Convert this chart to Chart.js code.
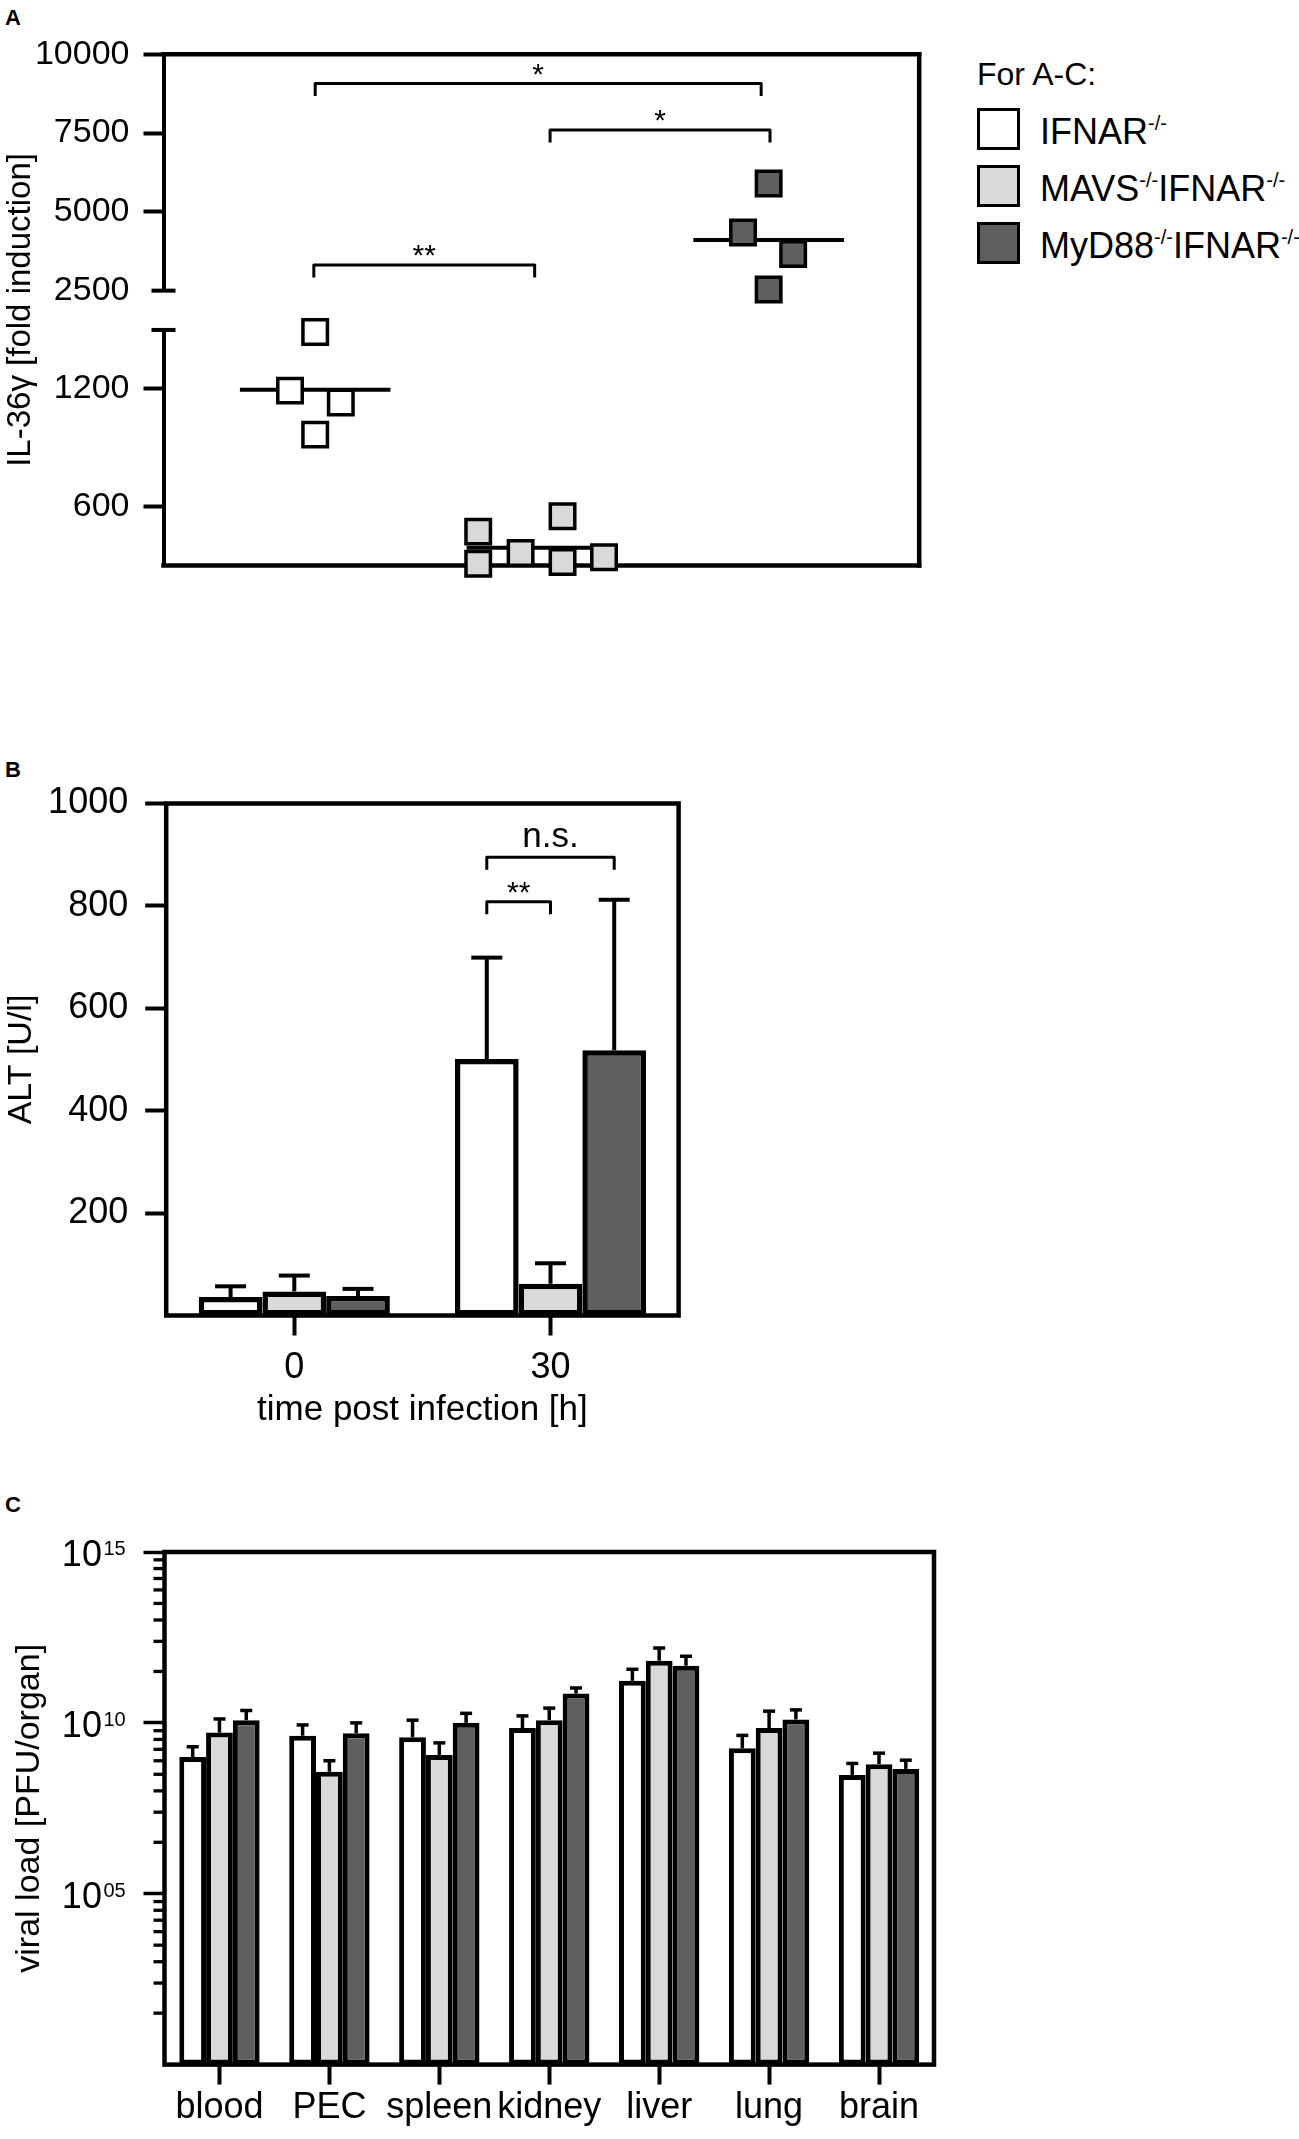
<!DOCTYPE html>
<html lang="en">
<head>
  <meta charset="UTF-8">
  <title>IL-36γ induction, ALT and viral load</title>
  <script src="https://cdn.jsdelivr.net/npm/chart.js"></script>
  <style>
    * {
      box-sizing: border-box;
      margin: 0;
      padding: 0;
    }

    html, body {
      width: 1299px;
      height: 2139px;
      overflow: hidden;
      background: #fff;
      color: #000;
      font-family: 'Liberation Sans', Arial, Helvetica, sans-serif;
    }

    body {
      position: relative;
    }

    canvas {
      position: absolute;
      left: 0;
    }

    .letter {
      position: absolute;
      left: 5px;
      font-size: 22px;
      font-weight: bold;
      line-height: 1;
    }

    .legend-title {
      position: absolute;
      left: 977px;
      top: 58px;
      font-size: 32px;
      line-height: 1;
    }

    .legend-row {
      position: absolute;
      left: 977px;
      height: 42px;
      white-space: nowrap;
    }

    .legend-box {
      position: absolute;
      left: 0;
      top: 0;
      width: 43px;
      height: 42px;
      border: 3px solid #000;
    }

    .legend-label {
      position: absolute;
      left: 63px;
      top: 3px;
      font-size: 36px;
      line-height: 42px;
    }

    .legend-label sup {
      font-size: 20px;
      line-height: 0;
      vertical-align: 14px;
    }
  </style>
</head>
<body>
  <div class="letter" style="top:7px">A</div>
  <div class="letter" style="top:759px">B</div>
  <div class="letter" style="top:1494px">C</div>

  <canvas id="chartA" style="top:0" width="940" height="600"></canvas>
  <canvas id="chartB" style="top:740px" width="700" height="720"></canvas>
  <canvas id="chartC" style="top:1480px" width="940" height="659"></canvas>

  <div class="legend-title">For A-C:</div>
  <div class="legend-row" style="top:108px">
    <div class="legend-box" style="background:#ffffff"></div>
    <div class="legend-label">IFNAR<sup>-/-</sup></div>
  </div>
  <div class="legend-row" style="top:165px">
    <div class="legend-box" style="background:#d9d9d9"></div>
    <div class="legend-label">MAVS<sup>-/-</sup>IFNAR<sup>-/-</sup></div>
  </div>
  <div class="legend-row" style="top:222px">
    <div class="legend-box" style="background:#5f5f5f"></div>
    <div class="legend-label">MyD88<sup>-/-</sup>IFNAR<sup>-/-</sup></div>
  </div>

  <script>
    // group colours: IFNAR-/-, MAVS-/-IFNAR-/-, MyD88-/-IFNAR-/-
    const groupFills = ['#ffffff', '#d9d9d9', '#5f5f5f'];

    // A: IL-36y fold induction, one point per mouse (x = group position incl. jitter)
    const groupCentersA = [1, 2, 3];
    const ifnarXA = [1.0, 0.889, 1.113, 1.0];
    const ifnarIL36 = [1490, 1191, 1131, 967];
    const mavsXA = [1.719, 1.719, 1.906, 2.091, 2.091, 2.274];
    const mavsIL36 = [473, 309, 364, 551, 318, 342];
    const myd88XA = [3.0, 2.887, 3.108, 3.0];
    const myd88IL36 = [5900, 4346, 3666, 2534];
    const meanIL36 = [1196, 391, 4108];
    const upperTicksA = [2500, 5000, 7500, 10000];
    const lowerTicksA = [600, 1200];
    const sigFromA = [1.0, 2.036, 0.994];
    const sigToA = [2.967, 3.006, 1.968];
    const sigLevelA = [9070, 7598, 3314];
    const sigTextA = ['*', '*', '**'];

    // B: ALT [U/l], mean and upper end of error bar
    const timeLabels = ['0', '30'];
    const altIfnar = [36, 501];
    const altMavs = [47, 62];
    const altMyd88 = [38, 518];
    const altIfnarTop = [57, 699];
    const altMavsTop = [78, 102];
    const altMyd88Top = [52, 812];
    const altTicks = [200, 400, 600, 800, 1000];

    // C: viral load [PFU/organ], mean and upper end of error bar
    const organs = ['blood', 'PEC', 'spleen', 'kidney', 'liver', 'lung', 'brain'];
    const viralIfnar = [1.0e9, 4.2e9, 3.8e9, 7.1e9, 1.7e11, 1.8e9, 3.0e8];
    const viralIfnarTop = [2.0e9, 8.7e9, 1.2e10, 1.6e10, 3.7e11, 4.3e9, 6.5e8];
    const viralMavs = [5.2e9, 3.7e8, 1.15e9, 1.2e10, 6.6e11, 7.1e9, 6.2e8];
    const viralMavsTop = [1.3e10, 7.8e8, 2.6e9, 2.7e10, 1.55e12, 2.2e10, 1.3e9];
    const viralMyd88 = [1.2e10, 5.0e9, 1.0e10, 7.2e10, 4.7e11, 1.26e10, 4.5e8];
    const viralMyd88Top = [2.3e10, 1.0e10, 1.9e10, 1.05e11, 8.9e11, 2.4e10, 8.1e8];
    const majorTicksC = [1e5, 1e10, 1e15];
    const exponentsC = ['05', '10', '15'];

    const FONT = "'Liberation Sans', Arial, Helvetica, sans-serif";
    Chart.defaults.font.family = FONT;
    Chart.defaults.color = '#000';
    Chart.defaults.animation = false;
    Chart.defaults.plugins.legend.display = false;
    Chart.defaults.plugins.tooltip.enabled = false;

    const plainLabel = v => String(v);

    function seg(ctx, x1, y1, x2, y2) {
      ctx.beginPath();
      ctx.moveTo(x1, y1);
      ctx.lineTo(x2, y2);
      ctx.stroke();
    }

    function drawBracket(ctx, x1, x2, y, text, fontSize, lift) {
      ctx.save();
      ctx.strokeStyle = '#000';
      ctx.lineWidth = 3;
      ctx.lineJoin = 'round';
      ctx.beginPath();
      ctx.moveTo(x1, y + 12.5);
      ctx.lineTo(x1, y);
      ctx.lineTo(x2, y);
      ctx.lineTo(x2, y + 12.5);
      ctx.stroke();
      ctx.fillStyle = '#000';
      ctx.font = fontSize + 'px ' + FONT;
      ctx.textAlign = 'center';
      ctx.textBaseline = 'alphabetic';
      ctx.fillText(text, (x1 + x2) / 2, y - lift);
      ctx.restore();
    }

    function drawFrame(ctx, a) {
      ctx.save();
      ctx.strokeStyle = '#000';
      ctx.lineWidth = 4.5;
      ctx.lineCap = 'square';
      ctx.strokeRect(a.left, a.top, a.right - a.left, a.bottom - a.top);
      ctx.restore();
    }

    // whiskers above each bar, upper ends come from dataset.errorTop
    const errorBarPlugin = {
      id: 'errorBars',
      afterDatasetsDraw(chart, args, opts) {
        const ctx = chart.ctx;
        ctx.save();
        ctx.strokeStyle = '#000';
        ctx.lineWidth = opts.width;
        chart.data.datasets.forEach((ds, i) => {
          const meta = chart.getDatasetMeta(i);
          const yScale = chart.scales[meta.yAxisID];
          meta.data.forEach((bar, j) => {
            const yEnd = yScale.getPixelForValue(ds.errorTop[j]);
            seg(ctx, bar.x, bar.y, bar.x, yEnd);
            seg(ctx, bar.x - opts.cap / 2, yEnd, bar.x + opts.cap / 2, yEnd);
          });
        });
        ctx.restore();
      }
    };

    // ---------- Panel A: broken y axis built from two stacked scales ----------
    function meanLine(i, axis) {
      return {
        type: 'line',
        data: [
          { x: groupCentersA[i] - 0.332, y: meanIL36[i] },
          { x: groupCentersA[i] + 0.332, y: meanIL36[i] }
        ],
        yAxisID: axis,
        borderColor: '#000',
        borderWidth: 4,
        pointRadius: 0,
        clip: false,
        order: 2
      };
    }

    function mice(xs, ys, i, axis) {
      return {
        data: xs.map((x, k) => ({ x: x, y: ys[k] })),
        yAxisID: axis,
        pointStyle: 'rect',
        pointRadius: 17.3,
        pointBackgroundColor: groupFills[i],
        pointBorderColor: '#000',
        pointBorderWidth: 3.5,
        clip: false,
        order: 1
      };
    }

    const panelAPlugin = {
      id: 'panelA',
      beforeDatasetsDraw(chart) {
        const { ctx, chartArea: a } = chart;
        const upper = chart.scales.yTop;
        const lower = chart.scales.yLow;
        ctx.save();
        ctx.strokeStyle = '#000';
        ctx.lineWidth = 4.5;
        ctx.lineCap = 'square';
        seg(ctx, a.left, a.top, a.right, a.top);
        seg(ctx, a.right, a.top, a.right, a.bottom);
        seg(ctx, a.left, a.bottom, a.right, a.bottom);
        // caps of the axis break
        ctx.lineCap = 'butt';
        ctx.lineWidth = 4;
        seg(ctx, a.left - 12, upper.bottom, a.left + 12, upper.bottom);
        seg(ctx, a.left - 12, lower.top, a.left + 12, lower.top);
        ctx.restore();
      },
      afterDraw(chart) {
        const { ctx, chartArea: a } = chart;
        const x = chart.scales.x;
        const upper = chart.scales.yTop;
        sigTextA.forEach((t, i) => {
          drawBracket(ctx, x.getPixelForValue(sigFromA[i]), x.getPixelForValue(sigToA[i]),
            upper.getPixelForValue(sigLevelA[i]), t, 30, 0);
        });
        ctx.save();
        ctx.translate(21, (a.top + a.bottom) / 2);
        ctx.rotate(-Math.PI / 2);
        ctx.font = '33px ' + FONT;
        ctx.fillStyle = '#000';
        ctx.textAlign = 'center';
        ctx.textBaseline = 'middle';
        ctx.fillText('IL-36γ [fold induction]', 0, 0);
        ctx.restore();
      }
    };

    const axisFontA = { size: 34 };
    new Chart(document.getElementById('chartA'), {
      type: 'scatter',
      data: {
        datasets: [
          meanLine(0, 'yLow'), meanLine(1, 'yLow'), meanLine(2, 'yTop'),
          mice(ifnarXA, ifnarIL36, 0, 'yLow'),
          mice(mavsXA, mavsIL36, 1, 'yLow'),
          mice(myd88XA, myd88IL36, 2, 'yTop')
        ]
      },
      options: {
        responsive: false,
        events: [],
        layout: { padding: { top: 54.3, right: 7.3, bottom: 34.3, left: 0 } },
        scales: {
          x: { type: 'linear', min: 0.331, max: 3.664, display: false },
          yTop: {
            type: 'linear', position: 'left', stack: 'il36', stackWeight: 236.4, weight: 3,
            min: 2500, max: 10000,
            afterBuildTicks: s => { s.ticks = upperTicksA.map(v => ({ value: v })); },
            ticks: { font: axisFontA, padding: 14, color: '#000', autoSkip: false, callback: plainLabel },
            grid: {
              drawOnChartArea: false, tickLength: 20, tickWidth: 4,
              tickColor: c => (c.tick && c.tick.value === 2500) ? 'rgba(0,0,0,0)' : '#000'
            },
            border: { color: '#000', width: 4 },
            afterFit: s => { s.width = 163.5; }
          },
          yGap: {
            type: 'linear', position: 'left', stack: 'il36', stackWeight: 39.3, weight: 2,
            min: 0, max: 1,
            ticks: { display: false },
            grid: { display: false },
            border: { display: false },
            afterFit: s => { s.width = 163.5; }
          },
          yLow: {
            type: 'linear', position: 'left', stack: 'il36', stackWeight: 235.7, weight: 1,
            min: 300, max: 1500,
            afterBuildTicks: s => { s.ticks = lowerTicksA.map(v => ({ value: v })); },
            ticks: { font: axisFontA, padding: 14, color: '#000', autoSkip: false, callback: plainLabel },
            grid: { drawOnChartArea: false, tickLength: 20, tickWidth: 4, tickColor: '#000' },
            border: { color: '#000', width: 4 },
            afterFit: s => { s.width = 163.5; }
          }
        }
      },
      plugins: [panelAPlugin]
    });

    // ---------- Panel B: ALT ----------
    const panelBPlugin = {
      id: 'panelB',
      beforeDatasetsDraw(chart) {
        drawFrame(chart.ctx, chart.chartArea);
      },
      afterDraw(chart) {
        const y = chart.scales.y;
        const white = chart.getDatasetMeta(0).data[1];
        const light = chart.getDatasetMeta(1).data[1];
        const dark = chart.getDatasetMeta(2).data[1];
        drawBracket(chart.ctx, white.x, dark.x, y.getPixelForValue(895), 'n.s.', 35, 10);
        drawBracket(chart.ctx, white.x, light.x, y.getPixelForValue(808), '**', 30, 0);
      }
    };

    function barSet(values, tops, i) {
      return {
        data: values,
        errorTop: tops,
        backgroundColor: groupFills[i],
        borderColor: '#000',
        borderWidth: 5.5,
        borderSkipped: false
      };
    }

    new Chart(document.getElementById('chartB'), {
      type: 'bar',
      data: {
        labels: timeLabels,
        datasets: [
          barSet(altIfnar, altIfnarTop, 0),
          barSet(altMavs, altMavsTop, 1),
          barSet(altMyd88, altMyd88Top, 2)
        ]
      },
      options: {
        responsive: false,
        events: [],
        categoryPercentage: 0.746,
        barPercentage: 1.0,
        layout: { padding: { top: 63.5, right: 21.4, bottom: 0, left: 0 } },
        scales: {
          x: {
            grid: { offset: false, drawOnChartArea: false, tickLength: 20, tickWidth: 4, tickColor: '#000' },
            border: { display: false },
            ticks: { font: { size: 36 }, padding: 11, color: '#000' },
            title: { display: true, text: 'time post infection [h]', font: { size: 35 }, padding: { top: 0, bottom: 29 }, color: '#000' },
            afterFit: s => { s.height = 144.5; }
          },
          y: {
            min: 0, max: 1000,
            afterBuildTicks: s => { s.ticks = altTicks.map(v => ({ value: v })); },
            grid: { drawOnChartArea: false, tickLength: 21, tickWidth: 4, tickColor: '#000' },
            border: { display: false },
            ticks: { font: { size: 36 }, padding: 17, color: '#000', autoSkip: false, callback: plainLabel },
            title: { display: true, text: 'ALT [U/l]', font: { size: 34 }, padding: { top: 1, bottom: 0 }, color: '#000' },
            afterFit: s => { s.width = 166.2; }
          }
        },
        plugins: { errorBars: { width: 4, cap: 31 } }
      },
      plugins: [panelBPlugin, errorBarPlugin]
    });

    // ---------- Panel C: viral load ----------
    const panelCPlugin = {
      id: 'panelC',
      beforeDatasetsDraw(chart) {
        drawFrame(chart.ctx, chart.chartArea);
      },
      afterDraw(chart) {
        const { ctx, chartArea: a } = chart;
        const y = chart.scales.y;
        ctx.save();
        // minor ticks, Prism style: k^5 steps inside each five-decade block
        ctx.strokeStyle = '#000';
        ctx.lineWidth = 3.3;
        [1, 1e5, 1e10].forEach(base => {
          for (let k = 2; k <= 9; k++) {
            const py = y.getPixelForValue(base * Math.pow(k, 5));
            seg(ctx, a.left - 11, py, a.left, py);
          }
        });
        // exponents of the "10" tick labels
        ctx.fillStyle = '#000';
        ctx.font = '20px ' + FONT;
        ctx.textAlign = 'left';
        ctx.textBaseline = 'alphabetic';
        majorTicksC.forEach((v, i) => {
          ctx.fillText(exponentsC[i], 103.5, y.getPixelForValue(v) + 3.3);
        });
        ctx.restore();
      }
    };

    function viralSet(values, tops, i) {
      return {
        data: values,
        errorTop: tops,
        backgroundColor: groupFills[i],
        borderColor: '#000',
        borderWidth: 5,
        borderSkipped: false
      };
    }

    new Chart(document.getElementById('chartC'), {
      type: 'bar',
      data: {
        labels: organs,
        datasets: [
          viralSet(viralIfnar, viralIfnarTop, 0),
          viralSet(viralMavs, viralMavsTop, 1),
          viralSet(viralMyd88, viralMyd88Top, 2)
        ]
      },
      options: {
        responsive: false,
        events: [],
        categoryPercentage: 0.731,
        barPercentage: 1.0,
        layout: { padding: { top: 72, right: 6, bottom: 0, left: 0 } },
        scales: {
          x: {
            grid: { offset: false, drawOnChartArea: false, tickLength: 20, tickWidth: 4, tickColor: '#000' },
            border: { display: false },
            ticks: { font: { size: 36 }, padding: 2, color: '#000', maxRotation: 0, autoSkip: false },
            afterFit: s => { s.height = 74.4; }
          },
          y: {
            type: 'logarithmic',
            min: 1, max: 1e15,
            afterBuildTicks: s => { s.ticks = majorTicksC.map(v => ({ value: v, major: true })); },
            grid: { drawOnChartArea: false, tickLength: 21, tickWidth: 3.5, tickColor: '#000' },
            border: { display: false },
            ticks: { font: { size: 36 }, padding: 41.6, labelOffset: 4, color: '#000', autoSkip: false, callback: () => '10' },
            title: { display: true, text: 'viral load [PFU/organ]', font: { size: 34 }, padding: { top: 9, bottom: 0 }, color: '#000' },
            afterFit: s => { s.width = 164.5; }
          }
        },
        plugins: { errorBars: { width: 3.5, cap: 12 } }
      },
      plugins: [panelCPlugin, errorBarPlugin]
    });
  </script>
</body>
</html>
